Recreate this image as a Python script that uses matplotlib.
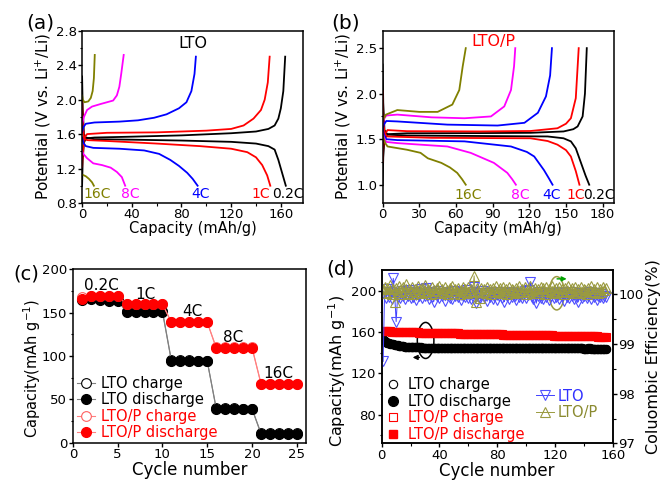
import numpy as np
import matplotlib
matplotlib.use("Agg")
import matplotlib.pyplot as plt
from matplotlib.lines import Line2D
from matplotlib.patches import Ellipse

# ---------------- data ----------------
rates = ["0.2C", "1C", "4C", "8C", "16C"]
rate_colors = ["black", "#ff0000", "#0000ff", "#ff00ff", "#808000"]

# (a) LTO  charge / discharge curves (capacity mAh/g, potential V)
a_dis_cap = [
    [0, 0.5, 1.5, 3, 10, 40, 80, 120, 140, 150, 155, 158, 161, 164],
    [0, 0.5, 1.5, 4, 20, 60, 95, 120, 133, 140, 145, 149, 151.5],
    [0, 1, 3, 9, 30, 50, 62, 71, 78, 84.6, 89, 93],
    [0, 1, 4, 9, 16, 23, 28, 32, 34.7],
    [0, 3, 5.5, 8, 9.5],
]
a_dis_v = [
    [2.27, 1.9, 1.6, 1.56, 1.54, 1.535, 1.525, 1.51, 1.49, 1.46, 1.42, 1.30, 1.15, 1.0],
    [2.0, 1.75, 1.55, 1.53, 1.52, 1.49, 1.46, 1.43, 1.39, 1.33, 1.24, 1.12, 1.0],
    [1.56, 1.50, 1.46, 1.44, 1.43, 1.41, 1.37, 1.30, 1.23, 1.15, 1.08, 1.0],
    [1.40, 1.37, 1.32, 1.26, 1.24, 1.21, 1.16, 1.10, 1.0],
    [1.13, 1.11, 1.08, 1.04, 1.0],
]
a_chg_cap = [
    [0, 0.5, 1.5, 3, 10, 40, 80, 120, 140, 150, 155, 158, 160, 162, 163.5],
    [0, 0.5, 1.5, 4, 20, 60, 100, 120, 130, 138, 144, 147, 149.5, 151],
    [0, 1, 3, 10, 30, 45, 58, 68, 78, 84, 88, 90.5, 91.6],
    [0, 1.5, 4, 8, 15, 25, 28, 30, 31.5, 33.5],
    [0, 0.5, 2, 5, 7, 8.5, 9.5, 10.2],
]
a_chg_v = [
    [1.0, 1.3, 1.5, 1.55, 1.56, 1.57, 1.585, 1.61, 1.63, 1.66, 1.70, 1.78, 1.9, 2.1, 2.5],
    [1.22, 1.35, 1.55, 1.60, 1.615, 1.62, 1.64, 1.66, 1.70, 1.78, 1.88, 2.0, 2.2, 2.5],
    [1.62, 1.68, 1.72, 1.735, 1.745, 1.76, 1.79, 1.83, 1.90, 1.97, 2.1, 2.3, 2.5],
    [1.72, 1.80, 1.88, 1.92, 1.95, 1.99, 2.05, 2.15, 2.3, 2.52],
    [2.05, 2.0, 1.97, 1.98, 2.02, 2.1, 2.25, 2.52],
]

# (b) LTO/P
b_dis_cap = [
    [0, 0.5, 1.5, 4, 20, 80, 135, 148, 154, 158, 162, 166, 169],
    [0, 0.5, 1.5, 4, 40, 121, 135, 143, 150, 154, 158, 161],
    [0, 1, 3, 12, 67, 105, 118, 124, 132, 136, 139],
    [0, 1, 3, 12, 53, 72, 91, 102, 106, 109],
    [0, 1, 2, 4, 20, 31, 34, 37, 48, 55, 61, 65, 68],
]
b_dis_v = [
    [2.32, 1.9, 1.6, 1.55, 1.54, 1.535, 1.53, 1.51, 1.476, 1.40, 1.25, 1.10, 1.0],
    [2.03, 1.75, 1.56, 1.53, 1.515, 1.51, 1.48, 1.44, 1.38, 1.31, 1.15, 1.0],
    [1.62, 1.55, 1.50, 1.49, 1.476, 1.42, 1.36, 1.31, 1.16, 1.07, 1.0],
    [1.58, 1.52, 1.47, 1.457, 1.42, 1.35, 1.24, 1.13, 1.06, 1.0],
    [1.55, 1.50, 1.46, 1.42, 1.384, 1.35, 1.32, 1.29, 1.24, 1.19, 1.13, 1.06, 1.0],
]
b_chg_cap = [
    [0, 0.5, 1.5, 4, 20, 80, 121, 148, 156, 159.5, 163.6, 165.5, 167],
    [0, 0.5, 1.5, 4, 20, 80, 121, 143, 150, 154, 158, 160.4],
    [0, 1, 3, 12, 53, 94, 116, 127, 133.6, 137, 138.5],
    [0, 1, 3, 12, 40, 67, 88.6, 99.5, 105, 107.5, 108.5],
    [0, 1, 2.7, 12, 30, 45, 57, 62.7, 65.5, 68],
]
b_chg_v = [
    [1.0, 1.3, 1.5, 1.555, 1.565, 1.567, 1.57, 1.585, 1.61, 1.64, 1.75, 2.0, 2.5],
    [1.25, 1.4, 1.55, 1.60, 1.588, 1.585, 1.59, 1.62, 1.67, 1.73, 1.95, 2.5],
    [1.60, 1.66, 1.70, 1.695, 1.66, 1.65, 1.68, 1.79, 1.97, 2.2, 2.5],
    [1.66, 1.72, 1.76, 1.77, 1.74, 1.73, 1.75, 1.86, 2.04, 2.3, 2.5],
    [1.70, 1.73, 1.77, 1.82, 1.80, 1.80, 1.88, 2.04, 2.30, 2.5],
]

# (c) rate capability
c_cycles = list(range(1, 26))
c_lto_charge = [167, 167, 166, 165, 165, 152, 152, 152, 152, 152, 95, 95, 95, 94, 94,
                40, 40, 40, 39, 39, 11, 11, 11, 11, 11]
c_lto_discharge = [165, 166, 165, 164, 164, 151, 151, 151, 151, 151, 94, 94, 94, 94, 94,
                   39, 39, 39, 39, 39, 10, 10, 10, 10, 10]
c_ltop_charge = [168, 169, 169, 169, 169, 160, 160, 160, 160, 160, 139, 139, 139, 139, 139,
                 110, 110, 110, 110, 110, 68, 68, 68, 68, 68]
c_ltop_discharge = [166, 169, 169, 169, 169, 160, 160, 160, 160, 160, 139, 139, 139, 139, 139,
                    109, 109, 109, 109, 109, 68, 68, 68, 68, 68]
c_rate_pos = [(3.2, 182), (8.1, 171), (13.3, 151), (17.9, 121), (22.9, 80)]

# (d) cycling at 1C
d_cycles = list(range(1, 156))
d_lto_discharge = [
    153.0, 151.5, 150.6, 150.0, 149.5, 149.0, 148.6, 148.2, 147.9, 147.6,
    147.3, 147.0, 146.8, 146.5, 146.3, 146.1, 145.9, 145.7, 145.6, 145.5,
    145.4, 145.4, 145.3, 145.3, 145.2, 145.2, 145.2, 145.1, 145.1, 145.1, 145.0, 145.0, 145.0, 145.0, 144.9,
    144.9, 144.9, 144.9, 144.8, 144.8, 144.8, 144.8, 144.8, 144.7, 144.7, 144.7, 144.7, 144.7, 144.7, 144.6,
    144.6, 144.6, 144.6, 144.7, 144.7, 144.6, 144.6, 144.6, 144.5, 144.5, 144.6, 144.6, 144.5, 144.5, 144.5,
    144.5, 144.5, 144.6, 144.6, 144.5, 144.5, 144.5, 144.5, 144.4, 144.4, 144.5, 144.5, 144.5, 144.4, 144.4,
    144.4, 144.5, 144.5, 144.5, 144.6, 144.6, 144.5, 144.5, 144.5, 144.5, 144.6, 144.6, 144.6, 144.5, 144.5,
    144.5, 144.5, 144.6, 144.6, 144.6, 144.6, 144.5, 144.5, 144.5, 144.5, 144.5, 144.4, 144.4, 144.4, 144.5,
    144.5, 144.5, 144.5, 144.4, 144.4, 144.4, 144.4, 144.4, 144.3, 144.3, 144.3, 144.4, 144.4, 144.4, 144.3,
    144.3, 144.3, 144.3, 144.3, 144.2, 144.2, 144.3, 144.3, 144.3, 144.2, 144.2, 144.2, 144.2, 144.2, 144.1,
    144.1, 144.1, 144.2, 144.2, 144.1, 144.1, 144.1, 144.0, 144.0, 144.1, 144.1, 144.0, 144.0, 144.0, 143.9,
]
d_ltop_discharge = [
    161.0, 160.9, 160.8, 160.8, 160.7, 160.7, 160.6, 160.6, 160.5, 160.5, 160.4, 160.4, 160.3, 160.3, 160.2,
    160.2, 160.1, 160.1, 160.0, 160.0, 159.9, 159.9, 159.9, 159.8, 159.8, 159.7, 159.7, 159.7, 159.6, 159.6,
    159.5, 159.5, 159.5, 159.4, 159.4, 159.4, 159.3, 159.3, 159.2, 159.2, 159.2, 159.1, 159.1, 159.1, 159.0,
    159.0, 159.0, 158.9, 158.9, 158.9, 158.8, 158.8, 158.8, 158.7, 158.7, 158.7, 158.6, 158.6, 158.6, 158.5,
    158.5, 158.5, 158.4, 158.4, 158.4, 158.3, 158.3, 158.3, 158.2, 158.2, 158.2, 158.1, 158.1, 158.1, 158.0,
    158.0, 158.0, 157.9, 157.9, 157.9, 157.8, 157.8, 157.8, 157.7, 157.7, 157.7, 157.6, 157.6, 157.6, 157.6,
    157.5, 157.5, 157.5, 157.4, 157.4, 157.4, 157.4, 157.3, 157.3, 157.3, 157.2, 157.2, 157.2, 157.2, 157.1,
    157.1, 157.1, 157.0, 157.0, 157.0, 157.0, 156.9, 156.9, 156.9, 156.8, 156.8, 156.8, 156.8, 156.7, 156.7,
    156.7, 156.6, 156.6, 156.6, 156.6, 156.5, 156.5, 156.5, 156.4, 156.4, 156.4, 156.4, 156.3, 156.3, 156.3,
    156.2, 156.2, 156.2, 156.2, 156.1, 156.1, 156.1, 156.0, 156.0, 156.0, 156.0, 155.9, 155.9, 155.9, 155.8,
    155.8, 155.8, 155.8, 155.7, 155.7,
]
d_lto_ce = [
    98.65, 100.05, 99.92, 100.1, 99.95, 100.05, 99.9, 100.32, 99.98, 99.45,
    99.95, 100.02, 99.93, 100.06, 99.97, 99.9, 100.04, 99.96, 100.08, 99.92,
    100.0, 99.95, 100.05, 99.88, 100.02, 99.97, 100.1, 99.93, 100.0, 99.96,
    100.12, 99.98, 99.9, 100.04, 99.95, 99.85, 100.02, 99.97, 100.06, 99.92,
    100.0, 99.96, 100.03, 99.87, 99.98, 100.05, 99.93, 100.0, 99.9, 100.07,
    99.96, 100.01, 99.94, 100.04, 99.88, 99.97, 100.02, 99.95, 100.09, 99.93,
    100.0, 99.9, 100.04, 100.15, 99.82, 99.97, 100.03, 99.92, 99.99, 100.06,
    99.95, 99.98, 99.86, 100.02, 99.95, 100.05, 99.9, 99.97, 100.01, 99.88,
    99.96, 100.04, 99.93, 99.99, 99.85, 100.02, 99.96, 99.9, 100.05, 99.94,
    100.0, 99.97, 99.89, 100.03, 99.95, 100.0, 99.92, 99.98, 100.06, 99.93,
    99.99, 100.08, 100.25, 99.95, 99.9, 100.0, 99.82, 99.96, 100.04, 99.92,
    99.98, 99.9, 100.02, 99.95, 100.0, 99.88, 99.97, 100.03, 99.93, 100.0,
    99.95, 99.99, 99.91, 100.04, 99.96, 99.87, 100.02, 99.95, 99.99, 99.92,
    100.05, 99.96, 99.9, 100.0, 99.94, 99.85, 99.98, 100.03, 99.93, 99.97,
    100.01, 99.92, 99.96, 100.04, 99.9, 99.98, 99.94, 100.02, 99.88, 99.97,
    99.95, 100.0, 99.93, 99.97, 99.95,
]
d_ltop_ce = [
    100.1, 100.15, 100.02, 100.12, 100.05, 100.18, 100.0, 100.1, 99.85, 100.13,
    100.05, 100.16, 100.08, 100.0, 100.14, 100.06, 100.2, 100.03, 100.11, 100.07,
    100.15, 100.01, 100.1, 100.05, 100.17, 100.08, 100.02, 100.13, 100.06, 100.19,
    100.04, 100.11, 100.07, 100.0, 100.15, 100.09, 100.03, 100.12, 100.06, 100.16,
    100.02, 100.1, 100.05, 100.14, 100.08, 100.0, 100.12, 100.06, 100.17, 100.03,
    100.1, 100.07, 100.13, 100.01, 100.09, 100.15, 100.05, 100.11, 100.02, 100.14,
    100.07, 100.1, 100.04, 100.37, 99.85, 100.12, 100.06, 99.92, 100.13, 100.05,
    100.1, 100.02, 100.15, 100.07, 100.11, 100.0, 100.13, 100.06, 100.16, 100.04,
    100.09, 100.12, 100.03, 100.14, 100.07, 100.1, 100.01, 100.15, 100.05, 100.11,
    100.08, 100.02, 100.13, 100.06, 100.17, 100.04, 100.1, 100.07, 100.14, 100.0,
    100.11, 100.05, 100.16, 100.08, 100.02, 100.13, 100.06, 100.1, 100.03, 100.15,
    100.07, 100.12, 100.01, 100.14, 100.06, 100.1, 100.04, 100.16, 100.08, 100.02,
    100.12, 100.05, 100.15, 100.07, 100.1, 100.0, 100.13, 100.06, 100.17, 100.04,
    100.09, 100.12, 100.03, 100.14, 100.07, 100.1, 100.02, 100.15, 100.05, 100.11,
    100.08, 100.01, 100.13, 100.06, 100.16, 100.04, 100.1, 100.07, 100.14, 100.02,
    100.11, 100.05, 100.15, 100.08, 100.12,
]

# ---------------- figure ----------------
plt.rcParams['font.family'] = 'DejaVu Sans'
plt.rcParams['axes.linewidth'] = 1.1

fig = plt.figure(figsize=(6.62, 4.82), dpi=100)
ax_a = fig.add_axes([0.124, 0.579, 0.334, 0.357])
ax_b = fig.add_axes([0.578, 0.579, 0.349, 0.357])
ax_c = fig.add_axes([0.110, 0.0815, 0.352, 0.3595])
ax_d = fig.add_axes([0.5766, 0.080, 0.349, 0.359])


def style_ticks(ax):
    ax.tick_params(which='major', direction='out', length=3, width=1, labelsize=9.5, pad=1,
                   top=False, right=False)
    ax.tick_params(which='minor', direction='out', length=1.8, width=0.8, top=False, right=False)


# (a)
for i in range(5):
    ax_a.plot(a_dis_cap[i], a_dis_v[i], color=rate_colors[i], lw=1.3)
    ax_a.plot(a_chg_cap[i], a_chg_v[i], color=rate_colors[i], lw=1.3)
ax_a.set_xlim(0, 178)
ax_a.set_ylim(0.8, 2.8)
ax_a.set_xticks([0, 40, 80, 120, 160])
ax_a.set_yticks([0.8, 1.2, 1.6, 2.0, 2.4, 2.8])
ax_a.set_xticks([20, 60, 100, 140], minor=True)
ax_a.set_yticks([1.0, 1.4, 1.8, 2.2, 2.6], minor=True)
style_ticks(ax_a)
ax_a.set_xlabel("Capacity (mAh/g)", fontsize=10.5, labelpad=0)
ax_a.set_ylabel("Potential (V vs. Li$^{+}$/Li)", fontsize=11, labelpad=2)
ax_a.text(89, 2.65, "LTO", fontsize=11.5, ha='center', va='center')
for lab, col, xpos in zip(rates, rate_colors, [165.7, 144, 95.6, 39, 12.1]):
    ax_a.text(xpos, 0.90, lab, color=col, fontsize=10, ha='center', va='center')

# (b)
for i in range(5):
    ax_b.plot(b_dis_cap[i], b_dis_v[i], color=rate_colors[i], lw=1.3)
    ax_b.plot(b_chg_cap[i], b_chg_v[i], color=rate_colors[i], lw=1.3)
ax_b.set_xlim(0, 189)
ax_b.set_ylim(0.8, 2.69)
ax_b.set_xticks([0, 30, 60, 90, 120, 150, 180])
ax_b.set_yticks([1.0, 1.5, 2.0, 2.5])
ax_b.set_yticks([1.25, 1.75, 2.25], minor=True)
style_ticks(ax_b)
ax_b.set_xlabel("Capacity (mAh/g)", fontsize=10.5, labelpad=0)
ax_b.set_ylabel("Potential (V vs. Li$^{+}$/Li)", fontsize=11, labelpad=2)
ax_b.text(90.5, 2.57, "LTO/P", color='#ff0000', fontsize=11.5, ha='center', va='center')
for lab, col, xpos in zip(rates, rate_colors, [177, 157.6, 138.3, 112.4, 70]):
    ax_b.text(xpos, 0.89, lab, color=col, fontsize=10, ha='center', va='center')

# (c)
ax_c.plot(c_cycles, c_lto_charge, color='#808080', lw=0.8, marker='o', ms=7,
          mfc='white', mec='black', mew=0.8)
ax_c.plot(c_cycles, c_lto_discharge, color='#808080', lw=0.8, marker='o', ms=7,
          mfc='black', mec='black')
ax_c.plot(c_cycles, c_ltop_charge, color='#ff8080', lw=0.8, marker='o', ms=7,
          mfc='white', mec='#ff6060', mew=0.8)
ax_c.plot(c_cycles, c_ltop_discharge, color='#ff8080', lw=0.8, marker='o', ms=7,
          mfc='#ff0000', mec='#ff0000')
ax_c.set_xlim(0, 26)
ax_c.set_ylim(0, 200)
ax_c.set_xticks([0, 5, 10, 15, 20, 25])
ax_c.set_yticks([0, 50, 100, 150, 200])
ax_c.set_yticks([25, 75, 125, 175], minor=True)
style_ticks(ax_c)
ax_c.set_xlabel("Cycle number", fontsize=12, labelpad=0)
ax_c.set_ylabel("Capacity(mAh g$^{-1}$)", fontsize=10.5)
ax_c.yaxis.set_label_coords(-0.127, 0.43)
for lab, (xx, yy) in zip(rates, c_rate_pos):
    ax_c.text(xx, yy, lab, fontsize=11, ha='center', va='center')
c_handles = [
    Line2D([], [], color='#808080', lw=0.8, marker='o', ms=7, mfc='white', mec='black', mew=0.8),
    Line2D([], [], color='#808080', lw=0.8, marker='o', ms=7, mfc='black', mec='black'),
    Line2D([], [], color='#ff8080', lw=0.8, marker='o', ms=7, mfc='white', mec='#ff6060', mew=0.8),
    Line2D([], [], color='#ff8080', lw=0.8, marker='o', ms=7, mfc='#ff0000', mec='#ff0000'),
]
c_labels = ["LTO charge", "LTO discharge", "LTO/P charge", "LTO/P discharge"]
leg_c = ax_c.legend(c_handles, c_labels, loc='lower left', bbox_to_anchor=(0.0, -0.01),
                    frameon=False, fontsize=10.5, handlelength=1.2, handletextpad=0.4,
                    labelspacing=0.1, borderaxespad=0, borderpad=0.3)
for t, col in zip(leg_c.get_texts(), ['black', 'black', '#ff0000', '#ff0000']):
    t.set_color(col)

# (d)
ax_d.plot(d_cycles, d_lto_discharge, ls='none', marker='o', ms=6, mfc='white', mec='black', mew=0.8)
ax_d.plot(d_cycles, d_lto_discharge, ls='none', marker='o', ms=5.5, color='black')
ax_d.plot(d_cycles, d_ltop_discharge, ls='none', marker='s', ms=5.5, mfc='white', mec='#ff0000', mew=0.8)
ax_d.plot(d_cycles, d_ltop_discharge, ls='none', marker='s', ms=5, color='#ff0000')
ax_d.set_xlim(0, 160)
ax_d.set_ylim(52, 220)
ax_d.set_xticks([0, 40, 80, 120, 160])
ax_d.set_yticks([80, 120, 160, 200])
ax_d.set_xticks([20, 60, 100, 140], minor=True)
ax_d.set_yticks([60, 100, 140, 180], minor=True)
style_ticks(ax_d)
ax_d.set_xlabel("Cycle number", fontsize=12, labelpad=0)
ax_d.set_ylabel("Capacity(mAh g$^{-1}$)", fontsize=11.5)
ax_d.yaxis.set_label_coords(-0.146, 0.42)
ax_d.add_patch(Ellipse((30.4, 152), 11.5, 35, fill=False, ec='black', lw=1.1))
ax_d.annotate("", xy=(19.5, 135.5), xytext=(28, 135.5),
              arrowprops=dict(arrowstyle='-|>', color='black', lw=1.0, mutation_scale=7))

d_handles = [
    Line2D([], [], ls='none', marker='o', ms=6, mfc='white', mec='black', mew=0.8),
    Line2D([], [], ls='none', marker='o', ms=7, color='black'),
    Line2D([], [], ls='none', marker='s', ms=6, mfc='white', mec='#ff0000', mew=0.8),
    Line2D([], [], ls='none', marker='s', ms=6, color='#ff0000'),
]
leg_d = ax_d.legend(d_handles, c_labels, loc='lower left', bbox_to_anchor=(0.0, -0.015),
                    frameon=False, fontsize=10.5, handlelength=1.0, handletextpad=0.5,
                    labelspacing=0.1, borderaxespad=0, borderpad=0.3)
for t, col in zip(leg_d.get_texts(), ['black', 'black', '#ff0000', '#ff0000']):
    t.set_color(col)

ax_d2 = ax_d.twinx()
ax_d2.plot(d_cycles, d_lto_ce, color='#4040ff', lw=0.7, marker='v', ms=6.5,
           mfc='none', mec='#5050ff', mew=0.8)
ax_d2.plot(d_cycles, d_ltop_ce, color='#9a9a40', lw=0.7, marker='^', ms=6.5,
           mfc='none', mec='#9a9a40', mew=0.8)
ax_d2.set_ylim(97, 100.48)
ax_d2.set_yticks([97, 98, 99, 100])
ax_d2.set_yticks([97.5, 98.5, 99.5], minor=True)
ax_d2.tick_params(which='major', direction='out', length=3, width=1, labelsize=9.5, pad=1)
ax_d2.tick_params(which='minor', direction='out', length=1.8, width=0.8)
ax_d2.set_ylabel("Coluombic Efficiency(%)", fontsize=11.5, labelpad=2)
ax_d2.add_patch(Ellipse((121.2, 100.02), 10.4, 0.67, fill=False, ec='#9a9a40', lw=1.1))
ax_d2.annotate("", xy=(130, 100.31), xytext=(119.5, 100.31),
               arrowprops=dict(arrowstyle='-|>', color='#00a000', lw=1.0, mutation_scale=7))
ce_handles = [
    Line2D([], [], color='#4040ff', lw=0.7, marker='v', ms=6.5, mfc='none', mec='#5050ff', mew=0.8),
    Line2D([], [], color='#9a9a40', lw=0.7, marker='^', ms=6.5, mfc='none', mec='#9a9a40', mew=0.8),
]
leg_ce = ax_d2.legend(ce_handles, ["LTO", "LTO/P"], loc='lower left', bbox_to_anchor=(0.65, 0.11),
                      frameon=False, fontsize=10.5, handlelength=1.25, handletextpad=0.2,
                      labelspacing=0.1, borderaxespad=0, borderpad=0.3)
for t, col in zip(leg_ce.get_texts(), ['#3030ff', '#8a8a30']):
    t.set_color(col)

# panel letters
fig.text(0.0615, 0.952, "(a)", fontsize=14.5, ha='center', va='center')
fig.text(0.5227, 0.952, "(b)", fontsize=14.5, ha='center', va='center')
fig.text(0.040, 0.431, "(c)", fontsize=14, ha='center', va='center')
fig.text(0.515, 0.442, "(d)", fontsize=14.5, ha='center', va='center')

fig.savefig("out.png", dpi=100)
